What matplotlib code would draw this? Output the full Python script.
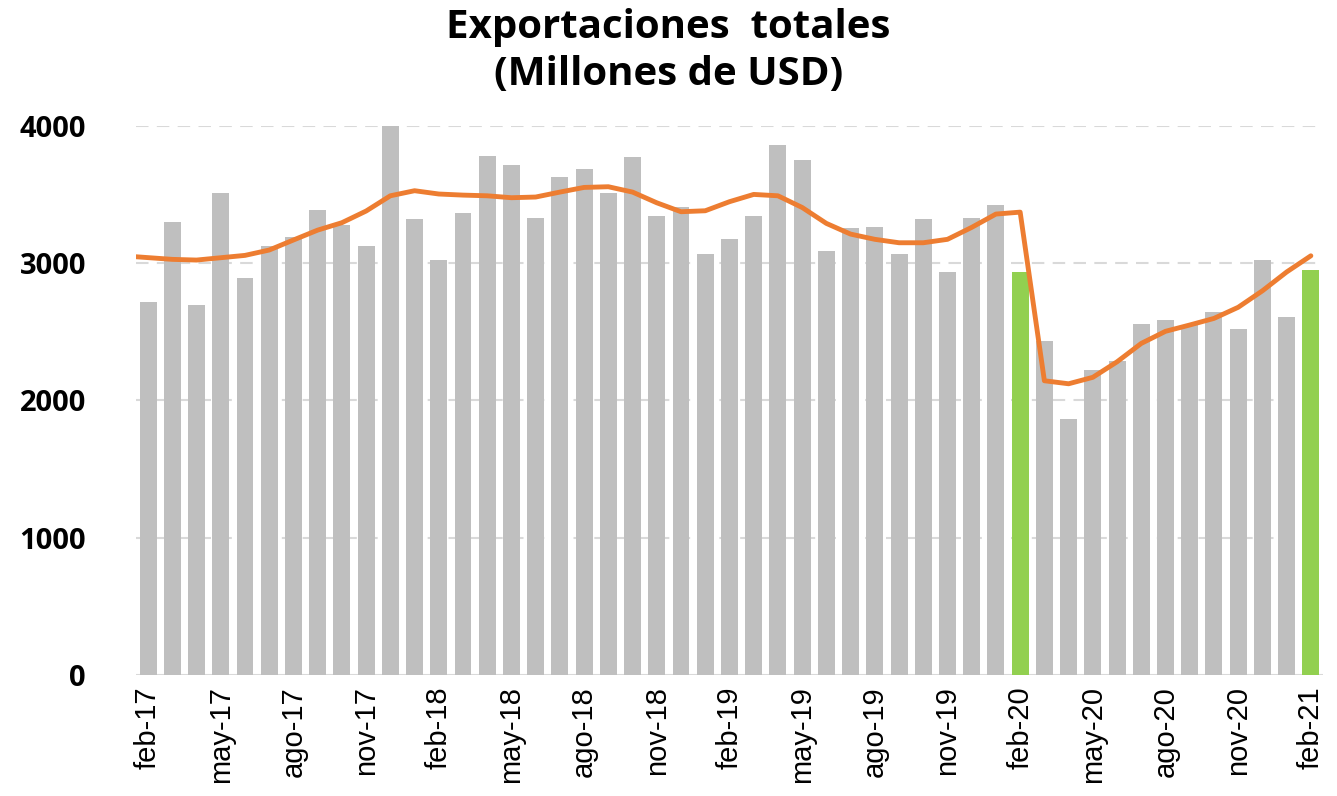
import matplotlib
matplotlib.use("Agg")
import matplotlib.pyplot as plt
import numpy as np

plt.rcParams['font.family'] = ['Open Sans', 'DejaVu Sans']

months = ['ene', 'feb', 'mar', 'abr', 'may', 'jun', 'jul', 'ago', 'sep', 'oct', 'nov', 'dic']
# feb-17 ... feb-21
labels = [f"{months[(1 + i) % 12]}-{17 + (1 + i) // 12}" for i in range(49)]

exports = [2716, 3299, 2694, 3510, 2891, 3124, 3189, 3386, 3277, 3124, 4005, 3320,
           3022, 3364, 3779, 3714, 3328, 3626, 3684, 3510, 3772, 3342, 3408, 3066,
           3175, 3342, 3859, 3750, 3087, 3255, 3262, 3066, 3320, 2935, 3328, 3422,
           2935, 2432, 1864, 2221, 2286, 2556, 2585, 2549, 2643, 2519, 3022, 2607,
           2949]

trend = [3046, 3027, 3022, 3039, 3056, 3095, 3168, 3240, 3294, 3379, 3490, 3527,
         3503, 3495, 3490, 3476, 3481, 3517, 3551, 3556, 3517, 3439, 3374, 3381,
         3447, 3500, 3490, 3405, 3289, 3211, 3173, 3148, 3148, 3173, 3260, 3357,
         3371, 2143, 2121, 2168, 2281, 2415, 2503, 2549, 2597, 2678, 2798, 2935,
         3053]

highlight = ['feb-20', 'feb-21']

x = np.arange(len(labels))
colors = ['#92d050' if l in highlight else '#bfbfbf' for l in labels]

fig = plt.figure(figsize=(13.37, 7.96), dpi=100)
ax = fig.add_axes([0.1017, 0.152, 0.8878, 0.690])

for v in [1000, 2000, 3000, 4000]:
    ax.axhline(v, color='#d9d9d9', lw=1.5, ls=(0, (6, 4)), zorder=0)
ax.axhline(0, color='#d9d9d9', lw=1.5, zorder=0)

ax.bar(x, exports, width=0.7, color=colors, zorder=2)
# the trend line starts at the left edge of the plot area
xl = x.astype(float)
xl[0] = -0.5
ax.plot(xl, trend, color='#ed7d31', lw=3.5, zorder=3, solid_capstyle='round')

ax.set_xlim(-0.5, len(labels) - 0.5)
ax.set_ylim(0, 4000)
ax.set_yticks([0, 1000, 2000, 3000, 4000])
ax.set_yticklabels(['0', '1000', '2000', '3000', '4000'], fontsize=21, fontweight='bold')
ax.set_xticks(x[::3])
ax.set_xticklabels(labels[::3], rotation=90, fontsize=21, family='Liberation Sans')
ax.tick_params(axis='x', length=0, pad=8)
ax.tick_params(axis='y', length=0, pad=36)

for s in ax.spines.values():
    s.set_visible(False)

fig.text(0.5, 0.966, "Exportaciones  totales", ha='center', va='center',
         fontsize=29, fontweight='bold')
fig.text(0.5, 0.906, "(Millones de USD)", ha='center', va='center',
         fontsize=29, fontweight='bold')

fig.savefig("out.png", dpi=100)
